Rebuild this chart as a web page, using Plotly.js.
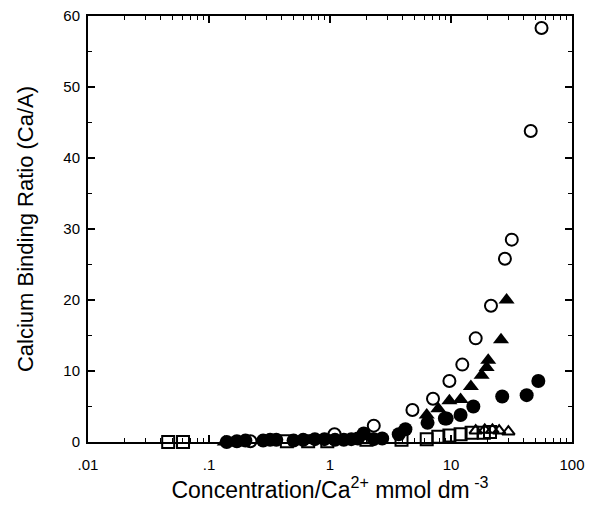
<!DOCTYPE html>
<html><head><meta charset="utf-8">
<script src="https://cdn.plot.ly/plotly-3.0.1.min.js"></script>
<style>html,body{margin:0;padding:0;background:#fff}#plot{width:595px;height:508px}</style>
</head><body><div id="plot"></div>
<script>
// Open circles
const openCircX = [0.22, 1.09, 2.3, 4.8, 7.1, 9.7, 12.4, 16.0, 21.4, 27.9, 31.8, 45.6, 56];
const openCircY = [0.1, 1.1, 2.3, 4.5, 6.1, 8.6, 10.9, 14.6, 19.2, 25.8, 28.5, 43.8, 58.3];
// Filled triangles
const triX = [0.135, 6.3, 7.85, 9.7, 12.0, 14.6, 17.9, 19.7, 20.3, 25.9, 28.8];
const triY = [0.0, 3.8, 4.7, 5.8, 6.0, 7.8, 9.4, 10.5, 11.5, 14.4, 20.0];
// Filled circles
const fillCircX = [0.14, 0.17, 0.2, 0.28, 0.32, 0.36, 0.5, 0.6, 0.75, 0.9, 1.1, 1.3, 1.5, 1.7, 1.9, 2.3, 2.7, 3.7, 4.2, 6.4, 8.9, 9.2, 12.0, 15.3, 26.5, 42.2, 52.7];
const fillCircY = [0.0, 0.1, 0.2, 0.2, 0.3, 0.3, 0.2, 0.3, 0.4, 0.4, 0.3, 0.3, 0.4, 0.5, 1.2, 0.4, 0.5, 1.1, 1.8, 2.7, 3.3, 3.3, 3.8, 5.0, 6.4, 6.6, 8.6];
// Open squares
const sqX = [0.046, 0.061, 0.44, 0.66, 0.95, 2.0, 3.9, 6.3, 7.85, 9.7, 12.0, 14.8, 18.7, 21.0];
const sqY = [0.0, 0.0, 0.1, 0.1, 0.1, 0.3, 0.3, 0.4, 0.75, 0.9, 1.1, 1.3, 1.3, 1.4];
// Open triangles
const oTriX = [16.0, 19.0, 22.0, 25.0, 29.8];
const oTriY = [1.6, 1.7, 1.7, 1.6, 1.45];

const xTickVals = [0.01, 0.1, 1, 10, 100];
const xTickText = ['.01', '.1', '1', '10', '100'];
const yTickVals = [0, 10, 20, 30, 40, 50, 60];
const yMinorVals = [5, 15, 25, 35, 45, 55];

const minorX = [];
[0.01, 0.1, 1, 10].forEach(d => { for (let k = 2; k <= 9; k++) minorX.push(+(d * k).toPrecision(3)); });

const traces = [
  {x: sqX, y: sqY, mode: 'markers', type: 'scatter', cliponaxis: false,
   marker: {symbol: 'square-open', size: 12, color: '#000', line: {width: 2}}},
  {x: oTriX, y: oTriY, mode: 'markers', type: 'scatter', cliponaxis: false,
   marker: {symbol: 'triangle-up-open', size: 11, color: '#000', line: {width: 2}}},
  {x: fillCircX, y: fillCircY, mode: 'markers', type: 'scatter', cliponaxis: false,
   marker: {symbol: 'circle', size: 14, color: '#000'}},
  {x: triX, y: triY, mode: 'markers', type: 'scatter', cliponaxis: false,
   marker: {symbol: 'triangle-up', size: 14, color: '#000'}},
  {x: openCircX, y: openCircY, mode: 'markers', type: 'scatter', cliponaxis: false,
   marker: {symbol: 'circle-open', size: 12, color: '#000', line: {width: 2}}}
];

const layout = {
  width: 595, height: 508,
  margin: {l: 88, r: 23, t: 16, b: 66},
  showlegend: false,
  paper_bgcolor: '#fff', plot_bgcolor: '#fff',
  font: {family: 'Liberation Sans, Arial, sans-serif', color: '#000'},
  xaxis: {
    type: 'log', range: [-2, 2],
    tickvals: xTickVals, ticktext: xTickText,
    ticks: 'inside', ticklen: 7, tickwidth: 1.5, tickcolor: '#000',
    minor: {tickvals: minorX, ticks: 'inside', ticklen: 4, tickwidth: 1, tickcolor: '#000'},
    showline: true, linecolor: '#000', linewidth: 2, mirror: 'ticks',
    showgrid: false, zeroline: false,
    tickfont: {size: 15}, ticklabelstandoff: 8,
    title: {text: 'Concentration/Ca<sup>2+</sup> mmol dm<sup> -3</sup>', font: {size: 23}, standoff: 6}
  },
  yaxis: {
    range: [0, 60], tickvals: yTickVals,
    ticks: 'inside', ticklen: 7, tickwidth: 1.5, tickcolor: '#000',
    minor: {tickvals: yMinorVals, ticks: 'inside', ticklen: 4, tickwidth: 1, tickcolor: '#000'},
    showline: true, linecolor: '#000', linewidth: 2, mirror: 'ticks',
    showgrid: false, zeroline: false,
    tickfont: {size: 15}, ticklabelstandoff: 3,
    title: {text: 'Calcium Binding Ratio (Ca/A)', font: {size: 22}, standoff: 24}
  }
};

Plotly.newPlot('plot', traces, layout, {staticPlot: true, displayModeBar: false});
</script></body></html>
